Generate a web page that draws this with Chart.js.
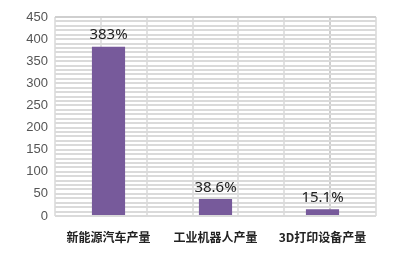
<html>
<head>
<script src="https://cdn.jsdelivr.net/npm/chart.js@4.4.0/dist/chart.umd.min.js"></script>
<style>
  body { margin: 0; background: #fff; }
  #wrap { width: 400px; height: 255px; }
</style>
</head>
<body>
<div id="wrap"><canvas id="chart"></canvas></div>
<script>
var categories = ['新能源汽车产量', '工业机器人产量', '3D打印设备产量'];
var values = [383, 38.6, 15.1];
var valueLabels = ['383%', '38.6%', '15.1%'];

// draws the percent text above each bar
var topLabels = {
    id: 'topLabels',
    afterDatasetsDraw: function(chart) {
        var ctx = chart.ctx;
        var meta = chart.getDatasetMeta(0);
        ctx.save();
        ctx.font = '15px "Noto Sans", sans-serif';
        ctx.fillStyle = '#222';
        ctx.textAlign = 'center';
        ctx.textBaseline = 'bottom';
        meta.data.forEach(function(bar, i) {
            ctx.fillText(valueLabels[i], bar.x, bar.y - 4);
        });
        ctx.restore();
    }
};

new Chart(document.getElementById('chart'), {
    type: 'bar',
    data: {
        labels: categories,
        datasets: [{
            data: values,
            backgroundColor: '#775a9b',
            borderWidth: 0,
            barPercentage: 0.62,
            categoryPercentage: 0.5
        }]
    },
    options: {
        responsive: true,
        maintainAspectRatio: false,
        animation: false,
        layout: { padding: { left: 0, right: 24, top: 17, bottom: 0 } },
        plugins: { legend: { display: false }, tooltip: { enabled: false } },
        scales: {
            x: {
                grid: { display: false },
                border: { display: false },
                ticks: {
                    color: '#222',
                    font: { family: '"Noto Sans CJK SC", sans-serif', size: 12, weight: 'bold' },
                    padding: 6,
                    maxRotation: 0
                },
                afterFit: function(s) { s.height = 39; }
            },
            xg: {
                type: 'linear',
                position: 'bottom',
                min: 0,
                max: 6,
                grid: {
                    color: function(c) { return c.tick && c.tick.value === 6 ? '#cfcfcf' : '#e2e2e2'; },
                    lineWidth: 2,
                    drawTicks: false
                },
                border: { display: false },
                ticks: { display: false, stepSize: 1 },
                afterFit: function(s) { s.height = 0; }
            },
            y: {
                min: 0,
                max: 450,
                grid: {
                    color: function(c) { return c.tick && c.tick.value === 450 ? '#cfcfcf' : '#dadada'; },
                    lineWidth: 2,
                    drawTicks: false
                },
                border: { display: false },
                ticks: {
                    stepSize: 10,
                    autoSkip: false,
                    padding: 7,
                    color: '#555',
                    font: { family: '"Liberation Sans Narrow", "Liberation Sans", sans-serif', size: 13 },
                    callback: function(v) { return v % 50 === 0 ? v : ''; }
                },
                afterFit: function(s) { s.width = 55; }
            }
        }
    },
    plugins: [topLabels]
});
</script>
</body>
</html>
